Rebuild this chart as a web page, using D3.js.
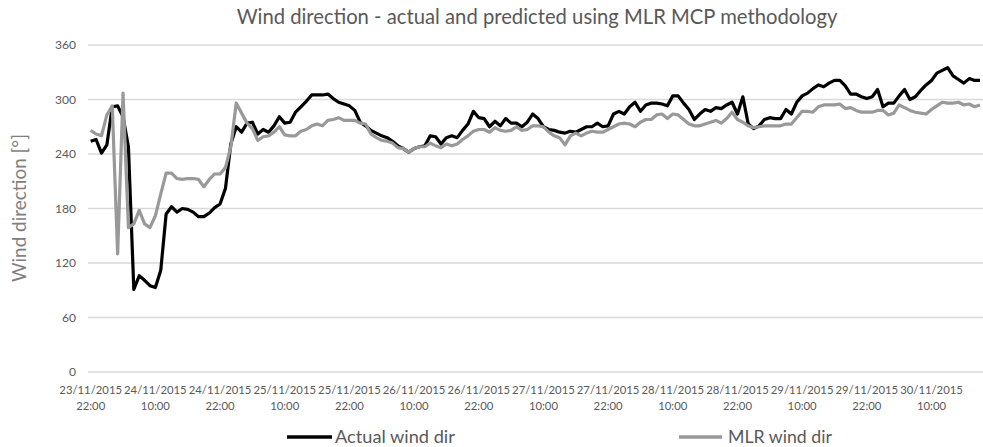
<!DOCTYPE html>
<html><head><meta charset="utf-8">
<script src="https://cdn.jsdelivr.net/npm/d3@7"></script>
<style>body{margin:0;background:#fff}svg{display:block}text{font-family:Lato,"Open Sans",sans-serif}</style>
</head><body><svg id="c" width="983" height="447"></svg>
<script>
const title = "Wind direction - actual and predicted using MLR MCP methodology";
const yTitle = "Wind direction [°]";
const seriesNames = ["Actual wind dir", "MLR wind dir"];
const startTime = new Date(2015, 10, 23, 22, 0);
const actual = [254,256,241,250,292,293,281,248,91,106,101,95,93,112,174,182,176,180,179,176,171,171,175,181,185,202,251,270,264,274,275,262,267,264,271,281,274,275,286,292,298,305,305,305,306,301,297,295,293,288,275,271,266,263,260,258,254,249,246,242,246,248,249,260,259,251,258,260,258,266,273,287,280,279,270,276,271,279,274,274,270,275,284,279,270,267,266,264,263,265,264,267,270,270,274,270,271,284,287,284,292,297,287,294,296,296,295,293,304,304,296,289,278,284,289,287,291,290,294,297,284,303,273,268,271,278,280,279,279,289,284,297,304,307,312,316,314,318,321,321,315,306,306,303,301,303,311,292,296,296,304,311,300,303,310,316,321,329,332,335,326,322,318,323,321,321];
const mlr = [266,262,260,283,293,130,307,159,163,178,163,159,172,196,219,219,213,212,213,213,212,204,212,218,218,225,248,296,285,274,268,255,259,260,264,270,261,260,260,265,267,271,273,271,277,278,280,277,277,277,274,273,262,258,255,254,252,247,246,242,246,248,248,252,249,247,251,249,251,256,260,265,267,267,264,269,266,265,266,270,266,267,271,271,270,264,260,258,250,260,263,260,263,265,264,264,267,270,273,274,273,270,275,278,278,283,284,279,284,283,278,273,271,271,273,275,277,274,279,286,278,275,271,269,270,271,271,271,271,273,273,280,287,287,286,292,294,294,294,295,290,291,288,286,286,286,288,288,283,285,294,291,288,286,285,284,289,293,297,296,296,297,294,295,292,294];
const yTicks = [0,60,120,180,240,300,360];
const tickDates = ["23/11/2015","24/11/2015","24/11/2015","25/11/2015","25/11/2015","26/11/2015","26/11/2015","27/11/2015","27/11/2015","28/11/2015","28/11/2015","29/11/2015","29/11/2015","30/11/2015"];
const tickTimes = ["22:00","10:00","22:00","10:00","22:00","10:00","22:00","10:00","22:00","10:00","22:00","10:00","22:00","10:00"];
const tickEvery = 12;

const categories = actual.map((_, i) => d3.timeHour.offset(startTime, i));
const svg = d3.select("#c");
const m = {left: 88, right: 983, top: 45, bottom: 372};
const x = d3.scaleBand().domain(categories.map((d,i)=>i)).range([m.left, m.right - 0.3]).padding(0);
const xc = i => x(i) + x.bandwidth()/2;
const y = d3.scaleLinear().domain([0,360]).range([m.bottom, m.top]);

function fit(sel, target, base){
  sel.style("font-size", base+"px");
  const w = sel.node().getComputedTextLength();
  sel.style("font-size", (base*target/w).toFixed(2)+"px");
}

// gridlines
svg.append("g").selectAll("line").data(yTicks).join("line")
  .attr("x1", m.left).attr("x2", m.right).attr("y1", d=>y(d)).attr("y2", d=>y(d))
  .attr("stroke", "#d9d9d9").attr("stroke-width", 1.3);

// y tick labels
const yl = svg.append("g").selectAll("text").data(yTicks).join("text")
  .attr("x", 76).attr("y", d=>y(d)).attr("dy","0.35em").attr("text-anchor","end")
  .attr("fill","#595959").text(d=>d);
yl.each(function(){ fit(d3.select(this), this.textContent.length*7, 12); });

// x tick labels
const xt = svg.append("g");
tickDates.forEach((d,k)=>{
  const i = k*tickEvery;
  const t1 = xt.append("text").attr("x", xc(i)).attr("y", 394).attr("text-anchor","middle").attr("fill","#595959").text(d);
  fit(t1, 62.7, 12);
  const t2 = xt.append("text").attr("x", xc(i)).attr("y", 410).attr("text-anchor","middle").attr("fill","#595959").text(tickTimes[k]);
  t2.style("font-size", t1.style("font-size"));
});

// lines
const line = d3.line().x((d,i)=>xc(i)).y(d=>y(d)).curve(d3.curveLinear);
svg.append("path").datum(actual).attr("d", line).attr("fill","none").attr("stroke","#000").attr("stroke-width",3.2).attr("stroke-linejoin","round");
svg.append("path").datum(mlr).attr("d", line).attr("fill","none").attr("stroke","#999999").attr("stroke-width",3.2).attr("stroke-linejoin","round");

// title
const tt = svg.append("text").attr("x", 537).attr("y", 24).attr("text-anchor","middle").attr("fill","#595959").text(title);
fit(tt, 601, 18);

// y title
const yt = svg.append("text").attr("transform","translate(26,208) rotate(-90)").attr("text-anchor","middle").attr("fill","#7f7f7f").text(yTitle);
fit(yt, 148, 18);

// legend
const leg = [{name: seriesNames[0], color:"#000", x1:287, x2:332, tx:335, w:120},
             {name: seriesNames[1], color:"#999999", x1:679, x2:722, tx:728, w:104}];
leg.forEach(l=>{
  svg.append("line").attr("x1", l.x1).attr("x2", l.x2).attr("y1", 437).attr("y2", 437).attr("stroke", l.color).attr("stroke-width", 3.5);
  const t = svg.append("text").attr("x", l.tx).attr("y", 437).attr("dy","0.35em").attr("fill","#595959").text(l.name);
  fit(t, l.w, 17);
});
</script></body></html>
